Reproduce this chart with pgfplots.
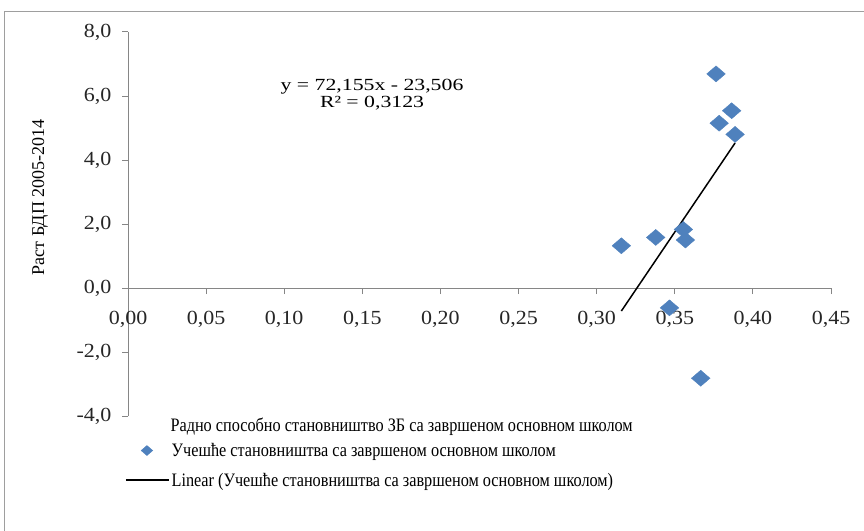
\documentclass[border=0pt]{standalone}
\usepackage{pgfplots}
\pgfplotsset{compat=1.18}
\usepackage{fontspec}
\setmainfont{Liberation Serif}
\newfontfamily\tickfont[FakeStretch=1.1]{Liberation Serif}
\newfontfamily\legfont[FakeStretch=0.855]{Liberation Serif}
\newfontfamily\eqfont[FakeStretch=1.28]{Liberation Serif}
\definecolor{exblue}{RGB}{79,129,189}
\definecolor{axgray}{RGB}{134,134,134}
\begin{document}
\begin{tikzpicture}[x=1bp,y=1bp]
\path[use as bounding box] (0,0) rectangle (864,-531);
\draw[axgray!80,line width=1bp] (4,-540) -- (4,-12) -- (870,-12);
\begin{axis}[
  at={(128bp,-288bp)}, anchor=origin,
  scale only axis, width=703bp, height=384bp,
  xmin=0, xmax=0.45, ymin=-4, ymax=8,
  axis x line=middle, axis y line=left,
  hide obscured x ticks=false, hide obscured y ticks=false,
  axis line style={axgray, line width=1bp, -},
  xtick={0,0.05,...,0.451}, ytick={-4,-2,...,8},
  tick align=outside, major tick length=6bp,
  tick style={axgray, line width=1bp},
  x tick label style={/pgf/number format/.cd, fixed, fixed zerofill, precision=2, use comma, /tikz/.cd, yshift=-14bp},
  y tick label style={/pgf/number format/.cd, fixed, fixed zerofill, precision=1, use comma, /tikz/.cd, xshift=-7bp},
  /pgf/number format/assume math mode=true,
  ticklabel style={font=\tickfont\fontsize{20bp}{24bp}\selectfont, text=black!85},
  every axis y label/.style={at={(axis description cs:-0.125,0.57)}, rotate=90, anchor=center, font=\fontsize{18bp}{21bp}\selectfont},
  ylabel={Раст БДП 2005-2014},
  every axis x label/.style={at={(axis description cs:0.0555,-0.029)}, anchor=west, font=\legfont\fontsize{19bp}{22bp}\selectfont},
  xlabel={Радно способно становништво ЗБ са завршеном основном школом},
  legend style={at={(axis description cs:-0.0043,-0.0651)}, anchor=north west, draw=none, fill=none, font=\legfont\fontsize{19bp}{22bp}\selectfont, row sep=11bp, inner sep=0pt},
  legend cell align=left,
  clip=false,
]
\addplot[only marks, mark=diamond*, mark size=8bp, mark options={xscale=1.55, fill=exblue, draw=exblue},
  legend image code/.code={\draw[mark size=5bp] plot coordinates {(21bp,0bp)};}] coordinates {
 (0.3764,6.69) (0.3864,5.54) (0.3784,5.15) (0.3886,4.80)
 (0.3158,1.32) (0.3378,1.58) (0.3555,1.83) (0.3568,1.50)
 (0.3466,-0.62) (0.3666,-2.82)
};
\addlegendentry{Учешће становништва са завршеном основном школом}
\addplot[black, line width=1.5bp, legend image code/.code={\draw[black,line width=1.5bp] (0bp,0bp) -- (43bp,0bp);}] coordinates {(0.3158,-0.720) (0.3886,4.533)};
\addlegendentry{Linear (Учешће становништва са завршеном основном школом)}
\node[align=center, font=\eqfont\fontsize{17bp}{17bp}\selectfont] at (axis cs:0.1562,6.03) {y = 72,155x - 23,506\\R² = 0,3123};
\end{axis}
\end{tikzpicture}
\end{document}
